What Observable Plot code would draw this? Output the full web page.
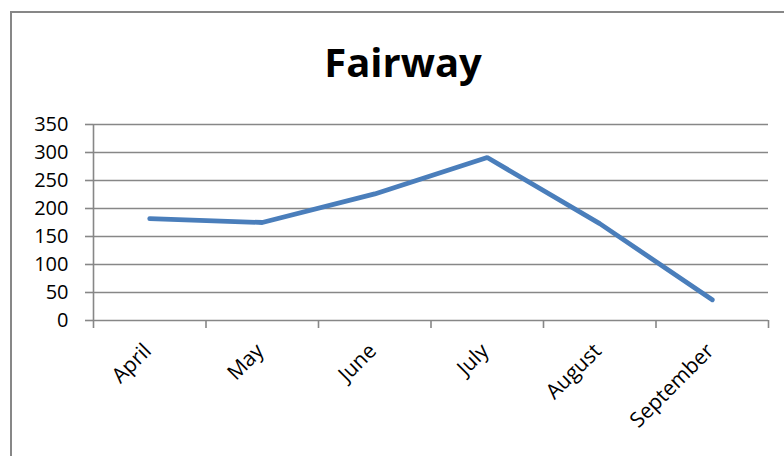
<!DOCTYPE html>
<html>
<head>
<meta charset="utf-8">
<script src="https://cdn.jsdelivr.net/npm/d3@7"></script>
<script src="https://cdn.jsdelivr.net/npm/@observablehq/plot@0.6"></script>
<style>
  html, body { margin: 0; padding: 0; background: #fff; overflow: hidden; width: 784px; height: 456px; }
  #wrap { position: relative; width: 784px; height: 456px; }
  #border { position: absolute; left: 10px; top: 11px; width: 820px; height: 520px; border: 2px solid #878787; box-sizing: border-box; pointer-events: none; }
  #title { position: absolute; left: 0; top: 42px; width: 806px; text-align: center; font-family: "Open Sans", sans-serif; font-weight: 700; font-size: 40px; line-height: 40px; color: #000; }
  #chart { position: absolute; left: 0; top: 0; }
  [aria-label^="y-axis"] line, [aria-label^="x-axis"] line,
  [aria-label="y-axis tick"] path, [aria-label="x-axis tick"] path { stroke: #878787; stroke-width: 1.6; }
</style>
</head>
<body>
<div id="wrap">
  <div id="chart"></div>
  <div id="border"></div>
  <div id="title">Fairway</div>
</div>
<script>
const months = ["April", "May", "June", "July", "August", "September"];
const fairway = [182, 175, 226, 291, 173, 37];
const yTicks = [0, 50, 100, 150, 200, 250, 300, 350];

const rows = months.map((m, i) => ({month: m, pos: i + 0.5, value: fairway[i]}));
const boundaries = d3.range(months.length + 1);

const chart = Plot.plot({
  width: 784,
  height: 456,
  marginLeft: 93,
  marginRight: 16,
  marginTop: 124,
  marginBottom: 136,
  style: {fontFamily: "'Open Sans', sans-serif", fontSize: "20px", color: "#000", background: "transparent", overflow: "visible"},
  x: {domain: [0, months.length], ticks: boundaries, tickSize: 8, tickFormat: () => "", label: null},
  y: {domain: [0, 350], ticks: yTicks, tickSize: 8, tickPadding: 17, label: null},
  marks: [
    Plot.ruleY(yTicks, {stroke: "#878787", strokeWidth: 1.6}),
    Plot.ruleX([0], {stroke: "#878787", strokeWidth: 1.6}),
    Plot.line(rows, {x: "pos", y: "value", stroke: "#4A7EBB", strokeWidth: 4.8, strokeLinejoin: "miter", strokeLinecap: "round"}),
    Plot.text(rows, {x: "pos", text: "month", frameAnchor: "bottom", lineAnchor: "middle", textAnchor: "end", rotate: -45, dx: -2, dy: 27, fontSize: 21, fill: "#000"})
  ]
});
document.getElementById("chart").appendChild(chart);
</script>
</body>
</html>
